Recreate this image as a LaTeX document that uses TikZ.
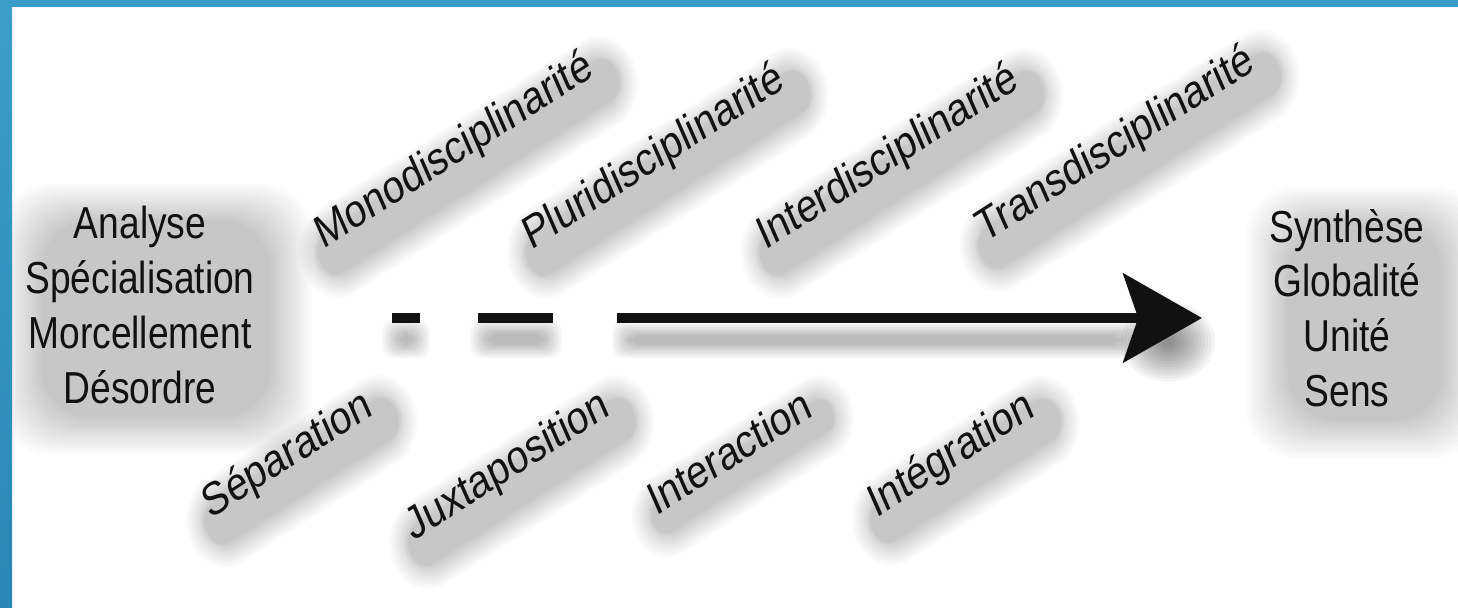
\documentclass[tikz,border=0pt]{standalone}
\usepackage{fontspec}
\setmainfont{Liberation Sans}
\newfontfamily\flatfont{Liberation Sans}[FakeStretch=0.83]
\usetikzlibrary{arrows.meta,positioning,shapes.misc}
\pgfdeclarelayer{bg}
\pgfsetlayers{bg,main}
\definecolor{frameblue}{HTML}{3B9EC8}
\definecolor{framedeep}{HTML}{2C86B5}
\definecolor{ink}{HTML}{111111}

\begin{document}
\begin{tikzpicture}[x=0.02cm,y=-0.02cm,
  block/.style={align=center,text=ink,inner sep=4pt,font=\flatfont\fontsize{25.5}{31.2}\selectfont},
  slant/.style={xscale=0.83,rotate=28,text=ink,inner sep=0pt,font=\fontsize{26.4}{30}\selectfont},
  haze/.style={rounded rectangle,fill=black,fill opacity=0.015},
  bar/.style={line width=5.7pt,ink}]
  \useasboundingbox (0,0) rectangle (1458,608);
  \begin{pgfonlayer}{bg}
    \fill[white] (0,0) rectangle (1458,608);
  \end{pgfonlayer}
  \fill[frameblue] (0,0) rectangle (1458,7);
  \shade[top color=frameblue,bottom color=framedeep] (0,0) rectangle (12,608);

  % the two ends
  \node[block] (analyse) at (140,305) {Analyse\\Spécialisation\\Morcellement\\Désordre};
  \node[block] (synthese) at (1347,308) {Synthèse\\Globalité\\Unité\\Sens};

  % degrees of the disciplines (above) and what they do (below)
  \foreach \n/\p/\a/\t in {mono/{323,250}/base west/Monodisciplinarité,
                           pluri/{531,251}/base west/Pluridisciplinarité,
                           inter/{765,251}/base west/Interdisciplinarité,
                           trans/{984,244}/base west/Transdisciplinarité,
                           separ/{375,414}/base east/Séparation,
                           juxta/{612,414}/base east/Juxtaposition,
                           interac/{815,415}/base east/Interaction,
                           integ/{1037,415}/base east/Intégration}{
    \begin{scope}[shift={(\p)}]
      \node[slant,anchor=\a] (\n) at (0,0) {\t};
    \end{scope}
  }

  % the way from analysis to synthesis
  \coordinate (d1a) at (392,318);
  \coordinate (d1b) at (420,318);
  \coordinate (d2a) at (478,318);
  \coordinate (d2b) at (553,318);
  \coordinate (arrstart) at (617,318);
  \coordinate (arrtip) at (1202,318);

  \draw[bar] (d1a) -- (d1b);
  \draw[bar] (d2a) -- (d2b);
  \draw[bar,-{Stealth[length=44.8pt,width=50.5pt,inset=8.5pt]}] (arrstart) -- (arrtip);

  % soft shadows
  \begin{pgfonlayer}{bg}
    \foreach \k in {0,...,13} {
      \foreach \n/\t in {mono/Monodisciplinarité,pluri/Pluridisciplinarité,inter/Interdisciplinarité,trans/Transdisciplinarité,
                         separ/Séparation,juxta/Juxtaposition,interac/Interaction,integ/Intégration}{
        \path ([shift={(14,15)}]\n.center) coordinate (haze-\n);
        \begin{scope}[shift={(haze-\n)}]
          \node[slant,haze,inner xsep={1.5pt*\k},inner ysep={1.1pt*\k}] at (0,0) {\phantom{\t}};
        \end{scope}
      }
      \node[block,haze,rectangle,rounded corners=28pt,inner xsep={1.8pt*\k},inner ysep={1.6pt*\k}] at ([shift={(16,14)}]analyse.center) {\phantom{Spécialisation}\\\phantom{A}\\\phantom{A}\\\phantom{A}};
      \node[block,haze,rectangle,rounded corners=28pt,inner xsep={1.8pt*\k},inner ysep={1.6pt*\k}] at ([shift={(18,14)}]synthese.center) {\phantom{Synthèse}\\\phantom{A}\\\phantom{A}\\\phantom{A}};
      \fill[black,opacity=0.02,rounded corners=6pt] ({400-1.4*\k},{334-1.1*\k}) rectangle ({412+1.4*\k},{344+1.1*\k});
      \fill[black,opacity=0.02,rounded corners=6pt] ({488-1.4*\k},{334-1.1*\k}) rectangle ({544+1.4*\k},{344+1.1*\k});
      \fill[black,opacity=0.02,rounded corners=6pt] ({630-1.4*\k},{336-1.1*\k}) rectangle ({1120+1.4*\k},{344+1.1*\k});
      \fill[black,opacity=0.04] (1168,342) ellipse ({3+3.4*\k} and {2+2.9*\k});
    }
  \end{pgfonlayer}
\end{tikzpicture}
\end{document}
